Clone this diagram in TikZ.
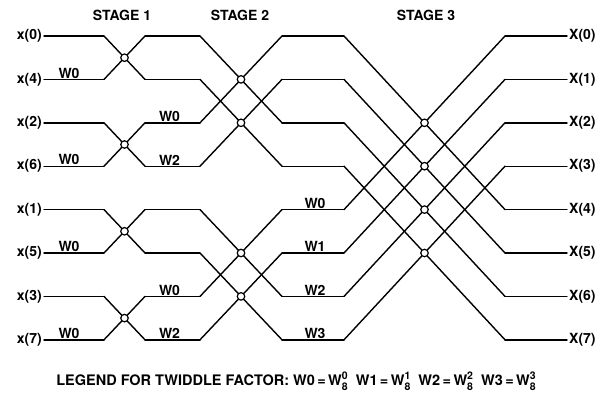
\documentclass[tikz,border=0pt]{standalone}
\usepackage{fontspec}
\setmainfont{TeX Gyre Heros}
\usetikzlibrary{calc}

% twiddle factor W_8^k for the legend
\newcommand{\wfac}[1]{W\raisebox{-4.8pt}{\fontsize{10.5}{10.5}\selectfont\shortstack[l]{#1\\[0.8pt]8}}}

\begin{document}
\begin{tikzpicture}[
        x=1pt, y=-1pt,
        sig/.style={line width=1.4pt, line cap=round, line join=round},
        bfly/.style={draw, circle, fill=white, line width=1.2pt, inner sep=0pt, minimum size=7.5pt},
        lab/.style={font=\fontsize{14}{16}\selectfont\bfseries, inner sep=2pt},
        twid/.style={font=\fontsize{14}{16}\selectfont\bfseries, inner sep=1pt, anchor=south}
    ]
    \useasboundingbox (0,0) rectangle (604,396);

    % ---- Grid of column points for the eight rows ----
    \foreach \r in {0,...,7} {
        \foreach \c/\x in {0/44,1/104,2/145,3/200,4/282,5/344,6/505,7/567}
            \coordinate (p\c-\r) at (\x, {36+43.4*\r});
    }

    % ---- Stage headings ----
    \node[lab] (st1) at (122, 15) {STAGE 1};
    \node[lab] (st2) at (240, 15) {STAGE 2};
    \node[lab] (st3) at (426, 15) {STAGE 3};

    % ---- Inputs (bit-reversed) and outputs ----
    \foreach \r/\k in {0/0,1/4,2/2,3/6,4/1,5/5,6/3,7/7} {
        \node[lab, anchor=east] (in\r) at (p0-\r) {x(\k)};
        \node[lab, anchor=west] (out\r) at (p7-\r) {X(\r)};
        \draw[sig] (in\r.east) -- (p1-\r);
        \draw[sig] (p2-\r) -- (p3-\r);
        \draw[sig] (p4-\r) -- (p5-\r);
        \draw[sig] (p6-\r) -- (out\r.west);
    }

    % ---- Stage 1 butterflies ----
    \foreach \a/\b in {0/1,2/3,4/5,6/7} {
        \draw[sig] (p1-\a) -- (p2-\b);
        \draw[sig] (p1-\b) -- (p2-\a);
        \node[bfly] (sa\a) at ($(p1-\a)!0.5!(p2-\b)$) {};
        \node[twid] (wa\b) at ([xshift=-5pt]$(p0-\b)!0.5!(p1-\b)$) {W0};
    }

    % ---- Stage 2 butterflies ----
    \foreach \a/\b in {0/2,1/3,4/6,5/7} {
        \draw[sig] (p3-\a) -- (p4-\b);
        \draw[sig] (p3-\b) -- (p4-\a);
        \node[bfly] (sb\a) at ($(p3-\a)!0.5!(p4-\b)$) {};
    }
    \foreach \r/\w in {2/W0,3/W2,6/W0,7/W2}
        \node[twid] (wb\r) at ([xshift=-3pt]$(p2-\r)!0.5!(p3-\r)$) {\w};

    % ---- Stage 3 butterflies ----
    \foreach \a/\b in {0/4,1/5,2/6,3/7} {
        \draw[sig] (p5-\a) -- (p6-\b);
        \draw[sig] (p5-\b) -- (p6-\a);
        \node[bfly] (sc\a) at ($(p5-\a)!0.5!(p6-\b)$) {};
        \node[twid] (wc\b) at ([xshift=2pt]$(p4-\b)!0.5!(p5-\b)$) {W\a};
    }

    % ---- Legend ----
    \node[lab, font=\fontsize{14.5}{16}\selectfont\bfseries] (legend) at (296, 381)
        {LEGEND FOR TWIDDLE FACTOR: W0\,=\,\wfac{0}\ \ W1\,=\,\wfac{1}\ \ W2\,=\,\wfac{2}\ \ W3\,=\,\wfac{3}};
\end{tikzpicture}
\end{document}
